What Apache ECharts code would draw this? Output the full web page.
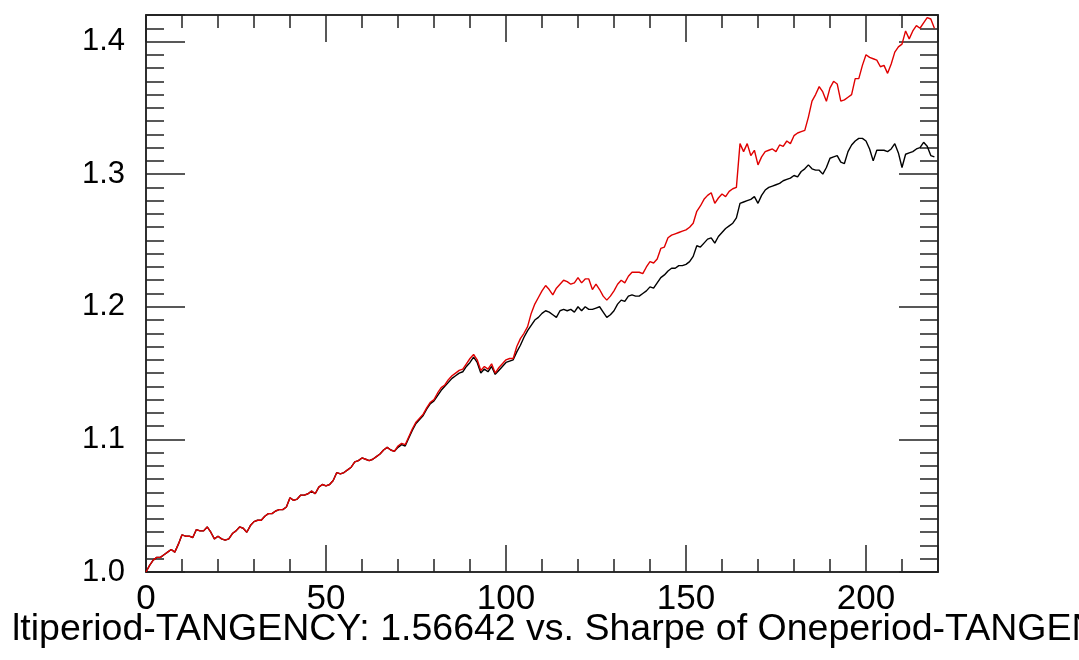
<!DOCTYPE html>
<html>
<head>
<meta charset="utf-8">
<script src="https://cdn.jsdelivr.net/npm/echarts@6/dist/echarts.min.js"></script>
<style>
html,body{margin:0;padding:0;background:#fff;}
#chart{width:1079px;height:660px;}
</style>
</head>
<body>
<div id="chart"></div>
<script>
// Multiperiod-TANGENCY (red) wealth path
const multiperiod = [
1.000,1.005,1.009,1.011,1.011,1.013,1.015,1.017,1.015,1.021,
1.028,1.027,1.027,1.026,1.032,1.031,1.031,1.034,1.030,1.025,
1.027,1.025,1.024,1.025,1.029,1.031,1.034,1.033,1.030,1.035,
1.038,1.039,1.039,1.042,1.044,1.044,1.046,1.047,1.047,1.049,
1.056,1.054,1.055,1.058,1.058,1.059,1.061,1.059,1.064,1.066,
1.065,1.066,1.069,1.075,1.074,1.075,1.077,1.079,1.083,1.084,
1.086,1.085,1.084,1.085,1.087,1.089,1.092,1.094,1.092,1.091,
1.095,1.097,1.096,1.102,1.108,1.113,1.116,1.119,1.124,1.128,
1.130,1.135,1.139,1.141,1.145,1.148,1.150,1.152,1.153,1.157,
1.161,1.164,1.160,1.152,1.155,1.153,1.157,1.150,1.154,1.157,
1.160,1.161,1.161,1.170,1.176,1.180,1.185,1.195,1.202,1.207,
1.212,1.216,1.213,1.209,1.214,1.217,1.220,1.219,1.217,1.218,
1.222,1.218,1.221,1.221,1.213,1.217,1.213,1.208,1.205,1.208,
1.212,1.217,1.220,1.218,1.223,1.226,1.226,1.226,1.225,1.230,
1.234,1.233,1.236,1.244,1.245,1.252,1.254,1.255,1.256,1.257,
1.258,1.260,1.263,1.272,1.276,1.281,1.284,1.286,1.278,1.282,
1.285,1.283,1.287,1.289,1.290,1.323,1.317,1.323,1.314,1.318,
1.307,1.313,1.317,1.318,1.319,1.317,1.322,1.321,1.325,1.323,
1.329,1.331,1.332,1.333,1.343,1.355,1.360,1.366,1.362,1.355,
1.365,1.370,1.368,1.355,1.356,1.358,1.360,1.372,1.372,1.382,
1.390,1.388,1.387,1.386,1.381,1.382,1.376,1.383,1.392,1.396,
1.398,1.408,1.402,1.408,1.412,1.410,1.414,1.418,1.417,1.410
];
// Oneperiod-TANGENCY (black) wealth path
const oneperiod = [
1.000,1.005,1.009,1.011,1.011,1.013,1.015,1.017,1.015,1.021,
1.028,1.027,1.027,1.026,1.032,1.031,1.031,1.034,1.030,1.025,
1.027,1.025,1.024,1.025,1.029,1.031,1.034,1.033,1.030,1.035,
1.038,1.039,1.039,1.042,1.044,1.044,1.046,1.047,1.047,1.049,
1.056,1.054,1.055,1.058,1.058,1.059,1.061,1.059,1.064,1.066,
1.065,1.066,1.069,1.075,1.074,1.075,1.077,1.079,1.083,1.084,
1.086,1.085,1.084,1.085,1.087,1.089,1.092,1.094,1.092,1.091,
1.094,1.096,1.095,1.101,1.107,1.112,1.115,1.118,1.123,1.127,
1.129,1.133,1.137,1.140,1.143,1.146,1.148,1.150,1.151,1.155,
1.158,1.162,1.158,1.150,1.153,1.151,1.155,1.149,1.152,1.155,
1.158,1.159,1.160,1.166,1.171,1.177,1.182,1.186,1.190,1.192,
1.195,1.197,1.196,1.194,1.192,1.197,1.198,1.197,1.198,1.196,
1.200,1.197,1.200,1.198,1.198,1.199,1.200,1.196,1.192,1.194,
1.197,1.202,1.205,1.204,1.208,1.209,1.208,1.208,1.210,1.212,
1.215,1.214,1.218,1.222,1.224,1.227,1.229,1.229,1.231,1.231,
1.232,1.234,1.238,1.246,1.245,1.248,1.251,1.252,1.248,1.253,
1.256,1.259,1.261,1.263,1.267,1.278,1.279,1.280,1.281,1.283,
1.278,1.284,1.288,1.290,1.291,1.292,1.293,1.295,1.296,1.297,
1.299,1.298,1.302,1.304,1.307,1.304,1.303,1.303,1.300,1.305,
1.312,1.313,1.314,1.309,1.308,1.317,1.322,1.325,1.327,1.327,
1.325,1.319,1.310,1.318,1.318,1.318,1.317,1.319,1.323,1.316,
1.305,1.315,1.316,1.317,1.319,1.320,1.324,1.321,1.314,1.313
];
const xTickLabels = ['0','50','100','150','200'];
const yTickLabels = ['1.0','1.1','1.2','1.3','1.4'];
const titleText = 'ltiperiod-TANGENCY: 1.56642 vs. Sharpe of Oneperiod-TANGENCY';

const FONT = 'Liberation Sans, Arial, Helvetica, sans-serif';
const AX = '#222';
const toPairs = arr => arr.map((v, i) => [i, v]);

function xAx(pos, interval, len, labels) {
  return {
    type: 'value', position: pos, min: 0, max: 220, interval: interval,
    axisLine: {show: true, onZero: false, lineStyle: {color: AX, width: 1.5}},
    axisTick: {show: true, inside: true, length: len, lineStyle: {color: AX, width: 1.5}},
    axisLabel: labels ? {
      show: true, margin: 10, color: '#000', fontSize: 35, fontFamily: FONT,
      formatter: v => { const s = String(Math.round(v)); return (Math.abs(v % 50) < 1e-6 && xTickLabels.includes(s)) ? s : ''; }
    } : {show: false},
    splitLine: {show: false}
  };
}
function yAx(pos, interval, len, labels) {
  return {
    type: 'value', position: pos, min: 1.0, max: 1.42, interval: interval,
    axisLine: {show: true, onZero: false, lineStyle: {color: AX, width: 1.5}},
    axisTick: {show: true, inside: true, length: len, lineStyle: {color: AX, width: 1.5}},
    axisLabel: labels ? {
      show: true, margin: 21, color: '#000', fontSize: 31, fontFamily: FONT,
      formatter: v => { const s = v.toFixed(1); return (Math.abs(v * 10 - Math.round(v * 10)) < 1e-6 && yTickLabels.includes(s)) ? s : ''; }
    } : {show: false},
    splitLine: {show: false}
  };
}

const chart = echarts.init(document.getElementById('chart'), null, {renderer: 'canvas'});
chart.setOption({
  animation: false,
  backgroundColor: '#fff',
  grid: {left: 146, right: 141, top: 15, bottom: 88, containLabel: false},
  xAxis: [
    xAx('bottom', 50, 27, true),
    xAx('bottom', 10, 13, false),
    xAx('top', 50, 27, false),
    xAx('top', 10, 13, false)
  ],
  yAxis: [
    yAx('left', 0.1, 39, true),
    yAx('left', 0.01, 18, false),
    yAx('right', 0.1, 39, false),
    yAx('right', 0.01, 18, false)
  ],
  series: [
    {type: 'line', data: toPairs(oneperiod), xAxisIndex: 0, yAxisIndex: 0, showSymbol: false, symbol: 'none',
     lineStyle: {color: '#000', width: 1.4}, itemStyle: {color: '#000'}, z: 2},
    {type: 'line', data: toPairs(multiperiod), xAxisIndex: 0, yAxisIndex: 0, showSymbol: false, symbol: 'none',
     lineStyle: {color: '#e00000', width: 1.4}, itemStyle: {color: '#e00000'}, z: 3}
  ],
  graphic: [
    {type: 'text', left: 12, top: 611, style: {text: titleText, fill: '#000', font: '37.5px ' + FONT}}
  ]
});
</script>
</body>
</html>
